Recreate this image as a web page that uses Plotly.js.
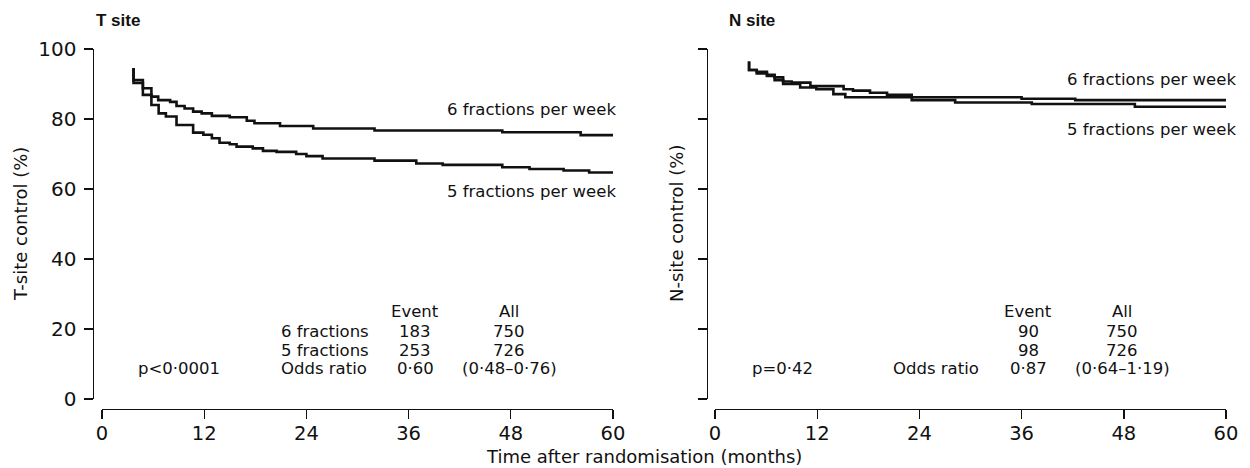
<!DOCTYPE html>
<html>
<head>
<meta charset="utf-8">
<script src="https://cdn.plot.ly/plotly-3.0.1.min.js"></script>
<style>html,body{margin:0;padding:0;background:#fff;}#chart{width:1250px;height:468px;}</style>
</head>
<body>
<div id="chart"></div>
<script>
// ---- Data ----
const monthTicks = [0, 12, 24, 36, 48, 60];
const pctTicks = [0, 20, 40, 60, 80, 100];

// T site, 6 fractions per week
const tSix_x = [3.7, 3.7, 4.8, 5.8, 6.6, 8.0, 8.75, 9.7, 10.7, 11.7, 12.9, 15.0, 17.0, 17.9, 20.9, 24.8, 32.0, 47.0, 56.2, 60];
const tSix_y = [94.6, 91.1, 88.8, 86.4, 85.4, 84.9, 83.7, 83.0, 82.1, 81.6, 80.9, 80.5, 79.5, 78.8, 78.0, 77.3, 76.7, 76.2, 75.4, 75.4];
// T site, 5 fractions per week
const tFive_x = [3.7, 3.7, 4.8, 5.8, 6.65, 7.5, 8.75, 10.7, 11.9, 12.9, 13.8, 15.0, 15.8, 17.7, 18.9, 20.5, 22.8, 24.0, 25.9, 32.0, 36.9, 40.0, 47.0, 50.2, 54.2, 57.2, 60];
const tFive_y = [94.6, 90.3, 86.9, 84.0, 81.6, 80.7, 78.3, 76.1, 75.5, 74.5, 73.2, 72.8, 72.1, 71.6, 70.9, 70.6, 70.0, 69.4, 68.7, 68.1, 67.3, 66.9, 66.2, 65.7, 65.3, 64.7, 64.7];

// N site, 6 fractions per week
const nSix_x = [4.0, 4.0, 4.9, 6.1, 7.0, 8.0, 9.0, 11.2, 15.1, 16.2, 18.2, 20.2, 23.1, 36.0, 42.3, 60];
const nSix_y = [96.4, 94.0, 93.5, 92.6, 91.9, 90.7, 90.4, 89.4, 88.5, 88.1, 87.5, 86.9, 86.2, 85.8, 85.4, 85.4];
// N site, 5 fractions per week
const nFive_x = [4.0, 4.0, 4.9, 6.1, 7.0, 8.0, 10.0, 11.9, 13.9, 15.3, 23.1, 28.2, 37.2, 49.3, 60];
const nFive_y = [96.4, 94.0, 93.0, 92.3, 91.1, 90.0, 89.0, 88.5, 87.1, 86.2, 85.4, 84.7, 84.3, 83.5, 83.5];

// Table texts
const tableHeader = ["Event", "All"];
const rowLabelsT = ["6 fractions", "5 fractions", "Odds ratio"];
const eventsT = ["183", "253", "0·60"];
const allT = ["750", "726", "(0·48–0·76)"];
const pT = "p<0·0001";
const rowLabelsN = ["", "", "Odds ratio"];
const eventsN = ["90", "98", "0·87"];
const allN = ["750", "726", "(0·64–1·19)"];
const pN = "p=0·42";
const seriesLabels = ["6 fractions per week", "5 fractions per week"];

// ---- Styling / layout ----
const FONT = "DejaVu Sans";
const INK = "#111111";
const lineStyle = {color: INK, width: 2.6, shape: "hv"};

function curve(x, y, xa, ya) {
  return {x: x, y: y, xaxis: xa, yaxis: ya, type: "scatter", mode: "lines",
          line: lineStyle, hoverinfo: "skip", showlegend: false};
}

const traces = [
  curve(tSix_x, tSix_y, "x", "y"),
  curve(tFive_x, tFive_y, "x", "y"),
  curve(nSix_x, nSix_y, "x2", "y2"),
  curve(nFive_x, nFive_y, "x2", "y2")
];

const W = 1250, H = 468;
const px = v => v / W;
const py = v => (H - v) / H;

const yDomain = [py(399), py(49)];
const xAxisPos = py(408.5);

function xAxis(domain) {
  return {domain: domain, anchor: "free", position: xAxisPos, range: [0, 60],
          tickmode: "array", tickvals: monthTicks, ticktext: monthTicks.map(String),
          ticklabelstandoff: -2,
          showline: true, linecolor: INK, linewidth: 1.4, ticks: "outside", ticklen: 9,
          tickwidth: 1.4, tickcolor: INK, showgrid: false, zeroline: false,
          tickfont: {family: FONT, size: 19.5, color: INK}, fixedrange: true};
}
function yAxis(pos, labels) {
  return {domain: yDomain, anchor: "free", position: pos, range: [0, 100],
          tickmode: "array", tickvals: pctTicks, ticktext: pctTicks.map(String),
          showticklabels: labels, ticklabelstandoff: 3,
          showline: true, linecolor: INK, linewidth: 1.4, ticks: "outside", ticklen: 9,
          tickwidth: 1.4, tickcolor: INK, showgrid: false, zeroline: false,
          tickfont: {family: FONT, size: 20, color: INK}, fixedrange: true};
}

const ann = [];
const tf = {family: FONT, size: 16.5, color: INK};
function addText(text, x, y, xref, yref, xanchor, extra) {
  ann.push(Object.assign({text: text, x: x, y: y, xref: xref, yref: yref,
    xanchor: xanchor, yanchor: "middle", showarrow: false, font: tf}, extra || {}));
}

// Table rows (y in data %, x in months)
const rowY = [19.4, 14.0, 8.6];
function table(xr, yr, labels, ev, al, p, labelX, pX) {
  addText(tableHeader[0], 36.8, 24.9, xr, yr, "center");
  addText(tableHeader[1], 47.8, 24.9, xr, yr, "center");
  for (let i = 0; i < 3; i++) {
    if (labels[i]) addText(labels[i], labelX, rowY[i], xr, yr, "left");
    addText(ev[i], 36.8, rowY[i], xr, yr, "center");
    addText(al[i], 47.8, rowY[i], xr, yr, "center");
  }
  addText(p, pX, rowY[2], xr, yr, "left");
}
table("x", "y", rowLabelsT, eventsT, allT, pT, 20.8, 4.0);
table("x2", "y2", rowLabelsN, eventsN, allN, pN, 20.7, 4.1);

// Curve labels
addText(seriesLabels[0], 60, 82.6, "x", "y", "right", {xshift: 5});
addText(seriesLabels[1], 60, 59.4, "x", "y", "right", {xshift: 5});
addText(seriesLabels[0], 60, 91.3, "x2", "y2", "right", {xshift: 12});
addText(seriesLabels[1], 60, 77.1, "x2", "y2", "right", {xshift: 12});

// Panel titles
const titleFont = {family: "Liberation Sans", size: 17, color: INK};
ann.push({text: "<b>T site</b>", x: px(94), y: py(21), xref: "paper", yref: "paper",
  xanchor: "left", yanchor: "middle", showarrow: false, font: titleFont});
ann.push({text: "<b>N site</b>", x: px(726.5), y: py(21), xref: "paper", yref: "paper",
  xanchor: "left", yanchor: "middle", showarrow: false, font: titleFont});

// Axis titles
const axFont = {family: FONT, size: 18, color: INK};
ann.push({text: "T-site control (%)", x: px(21), y: py(224), xref: "paper", yref: "paper",
  xanchor: "center", yanchor: "middle", textangle: -90, showarrow: false, font: axFont});
ann.push({text: "N-site control (%)", x: px(677), y: py(224), xref: "paper", yref: "paper",
  xanchor: "center", yanchor: "middle", textangle: -90, showarrow: false, font: axFont});
ann.push({text: "Time after randomisation (months)", x: px(644), y: 0, xref: "paper", yref: "paper",
  xanchor: "center", yanchor: "bottom", borderpad: 0, showarrow: false, font: axFont});

const layout = {
  width: W, height: H,
  margin: {l: 0, r: 0, t: 0, b: 0, pad: 0},
  paper_bgcolor: "#ffffff", plot_bgcolor: "#ffffff",
  font: {family: FONT, color: INK},
  showlegend: false,
  xaxis: xAxis([px(102), px(613)]),
  yaxis: yAxis(px(92.5), true),
  xaxis2: xAxis([px(715), px(1226)]),
  yaxis2: yAxis(px(706.7), false),
  annotations: ann
};

Plotly.newPlot("chart", traces, layout, {displayModeBar: false, staticPlot: true});
</script>
</body>
</html>
